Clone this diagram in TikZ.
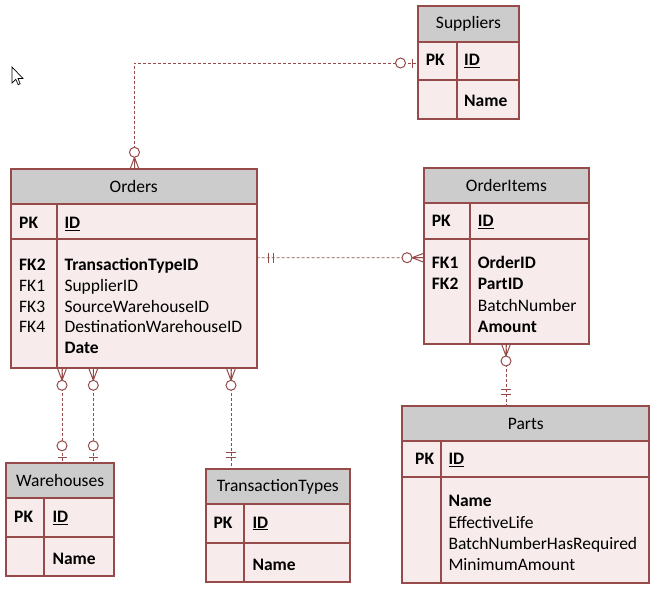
\documentclass[tikz,border=0pt]{standalone}
\usepackage{fontspec}
\setmainfont{Carlito}
\usetikzlibrary{decorations.markings}
\definecolor{erline}{RGB}{150,74,74}
\definecolor{erhead}{RGB}{204,204,204}
\definecolor{erbody}{RGB}{247,235,235}
\newcommand{\erfont}{\fontsize{17.5}{21}\selectfont}
\tikzset{
  tblhead/.style={
    rectangle,
    anchor=north west,
    inner sep=0pt,
    outer sep=0pt,
    draw=erline,
    line width=2pt,
    fill=erhead,
    font=\erfont
  },
  tblrow/.style={
    rectangle,
    anchor=north west,
    inner sep=0pt,
    outer sep=0pt,
    draw=erline,
    line width=2pt,
    fill=erbody
  },
  tblline/.style={draw=erline, line width=2pt},
  keytxt/.style={anchor=base west, inner sep=0pt, font=\erfont\bfseries},
  fieldtxt/.style={anchor=base west, inner sep=0pt, font=\erfont},
  listtxt/.style={anchor=north west, inner sep=0pt, align=left, font=\erfont},
  rel/.style={draw=erline, line width=0.9pt, dash pattern=on 3pt off 2pt},
  crowzero/.pic={
    \draw[solid, line width=1pt, erline] (12,0) -- (0,4.5) (12,0) -- (0,0) (12,0) -- (0,-4.5);
    \draw[solid, line width=1pt, erline, fill=white] (17,0) circle (5);
  },
  zeroone/.pic={
    \draw[solid, line width=1pt, erline] (5.5,-4.5) -- (5.5,4.5);
    \draw[solid, line width=1pt, erline, fill=white] (17.5,0) circle (5);
  },
  oneone/.pic={
    \draw[solid, line width=1pt, erline] (12,-5) -- (12,5) (17,-5) -- (17,5);
  },
  src/.style={postaction={decorate, decoration={markings, mark=at position 0 with {\pic[transform shape]{#1};}}}},
  dst/.style={postaction={decorate, decoration={markings, mark=at position 1 with {\pic[transform shape, xscale=-1]{#1};}}}}
}
\begin{document}
\begin{tikzpicture}[x=1pt, y=-1pt]
  \useasboundingbox (0,0) rectangle (659,589);

  % Suppliers
  \node (suphead) [tblhead, minimum width=101pt, minimum height=36pt] at (418,6) {Suppliers};
  \node (supkey) [tblrow, minimum width=101pt, minimum height=38pt] at (suphead.south west) {};
  \node (supname) [tblrow, minimum width=101pt, minimum height=39pt] at (supkey.south west) {};
  \draw[tblline] ([xshift=39.3pt]supkey.north west) -- ([xshift=39.3pt]supname.south west);
  \node (supk) [keytxt] at (425.7,65.7) {PK};
  \node (supid) [keytxt] at (464,65.7) {\underline{ID}};
  \node (supn) [keytxt] at (464,106.7) {Name};

  % Orders
  \node (ordhead) [tblhead, minimum width=246pt, minimum height=34.7pt] at (10.7,169.3) {Orders};
  \node (ordkey) [tblrow, minimum width=246pt, minimum height=35.3pt] at (ordhead.south west) {};
  \node (ordfield) [tblrow, minimum width=246pt, minimum height=129pt] at (ordkey.south west) {};
  \draw[tblline] ([xshift=46.6pt]ordkey.north west) -- ([xshift=46.6pt]ordfield.south west);
  \node (ordk) [keytxt] at (19,228.4) {PK};
  \node (ordid) [keytxt] at (64.3,228.4) {\underline{ID}};
  \node (ordfk) [listtxt, font=\fontsize{17.5}{20.7}\selectfont] at (19,256.2)
    {\strut\textbf{FK2}\\FK1\\FK3\\FK4};
  \node (ordf) [listtxt, font=\fontsize{17.5}{20.7}\selectfont] at (64.3,256.2)
    {\strut\textbf{TransactionTypeID}\\SupplierID\\SourceWarehouseID\\DestinationWarehouseID\\\textbf{Date}};

  % OrderItems
  \node (oihead) [tblhead, minimum width=165pt, minimum height=35pt] at (424,168.3) {OrderItems};
  \node (oikey) [tblrow, minimum width=165pt, minimum height=35.7pt] at (oihead.south west) {};
  \node (oifield) [tblrow, minimum width=165pt, minimum height=105pt] at (oikey.south west) {};
  \draw[tblline] ([xshift=46.3pt]oikey.north west) -- ([xshift=46.3pt]oifield.south west);
  \node (oik) [keytxt] at (431.7,226.7) {PK};
  \node (oiid) [keytxt] at (477.7,226.7) {\underline{ID}};
  \node (oifk) [listtxt, font=\fontsize{17.5}{21.5}\selectfont] at (431.7,253)
    {\strut\textbf{FK1}\\\textbf{FK2}};
  \node (oif) [listtxt, font=\fontsize{17.5}{21.5}\selectfont] at (477.7,253)
    {\strut\textbf{OrderID}\\\textbf{PartID}\\BatchNumber\\\textbf{Amount}};

  % Parts
  \node (parthead) [tblhead, minimum width=247pt, minimum height=35pt] at (402.3,406) {Parts};
  \node (partkey) [tblrow, minimum width=247pt, minimum height=35.7pt] at (parthead.south west) {};
  \node (partfield) [tblrow, minimum width=247pt, minimum height=106pt] at (partkey.south west) {};
  \draw[tblline] ([xshift=38.4pt]partkey.north west) -- ([xshift=38.4pt]partfield.south west);
  \node (partk) [keytxt] at (415,464.7) {PK};
  \node (partid) [keytxt] at (448.3,464.7) {\underline{ID}};
  \node (partf) [listtxt, font=\fontsize{17.5}{21.3}\selectfont] at (448.3,491.8)
    {\strut\textbf{Name}\\EffectiveLife\\BatchNumberHasRequired\\MinimumAmount};

  % Warehouses
  \node (whhead) [tblhead, minimum width=108.3pt, minimum height=34.4pt] at (6,463.3) {Warehouses};
  \node (whkey) [tblrow, minimum width=108.3pt, minimum height=39.6pt] at (whhead.south west) {};
  \node (whname) [tblrow, minimum width=108.3pt, minimum height=38.4pt] at (whkey.south west) {};
  \draw[tblline] ([xshift=38pt]whkey.north west) -- ([xshift=38pt]whname.south west);
  \node (whk) [keytxt] at (14,522.4) {PK};
  \node (whid) [keytxt] at (52.3,522.4) {\underline{ID}};
  \node (whn) [keytxt] at (52.3,564) {Name};

  % TransactionTypes
  \node (tthead) [tblhead, minimum width=144.3pt, minimum height=35.3pt] at (205.7,469) {TransactionTypes};
  \node (ttkey) [tblrow, minimum width=144.3pt, minimum height=39pt] at (tthead.south west) {};
  \node (ttname) [tblrow, minimum width=144.3pt, minimum height=39pt] at (ttkey.south west) {};
  \draw[tblline] ([xshift=38.6pt]ttkey.north west) -- ([xshift=38.6pt]ttname.south west);
  \node (ttk) [keytxt] at (213.3,528) {PK};
  \node (ttid) [keytxt] at (252.3,528) {\underline{ID}};
  \node (ttn) [keytxt] at (252.3,570) {Name};

  % relations
  \draw[rel, src=crowzero, dst=zeroone] ([xshift=123.8pt]ordhead.north west) |- ([yshift=-2pt]supkey.west);
  \draw[rel, src=oneone, dst=crowzero] ([yshift=-18.4pt]ordfield.north east) -- ([yshift=-18.7pt]oifield.north west);
  \draw[rel, src=crowzero, dst=oneone] ([xshift=82pt]oifield.south west) -- ([xshift=103.7pt]parthead.north west);
  \draw[rel, src=crowzero, dst=zeroone] ([xshift=51.3pt]ordfield.south west) -- ([xshift=56pt]whhead.north west);
  \draw[rel, src=crowzero, dst=zeroone] ([xshift=82.6pt]ordfield.south west) -- ([xshift=87.3pt]whhead.north west);
  \draw[rel, src=crowzero, dst=oneone] ([xshift=220.3pt]ordfield.south west) -- ([xshift=25.3pt]tthead.north west);

  % pointer
  \draw[line width=0.7pt, fill=white] (12,67) -- (12,83) -- (15.8,79.3) -- (18.2,84.7) -- (20.2,83.8) -- (18,78.5) -- (23,78.5) -- cycle;
\end{tikzpicture}
\end{document}
